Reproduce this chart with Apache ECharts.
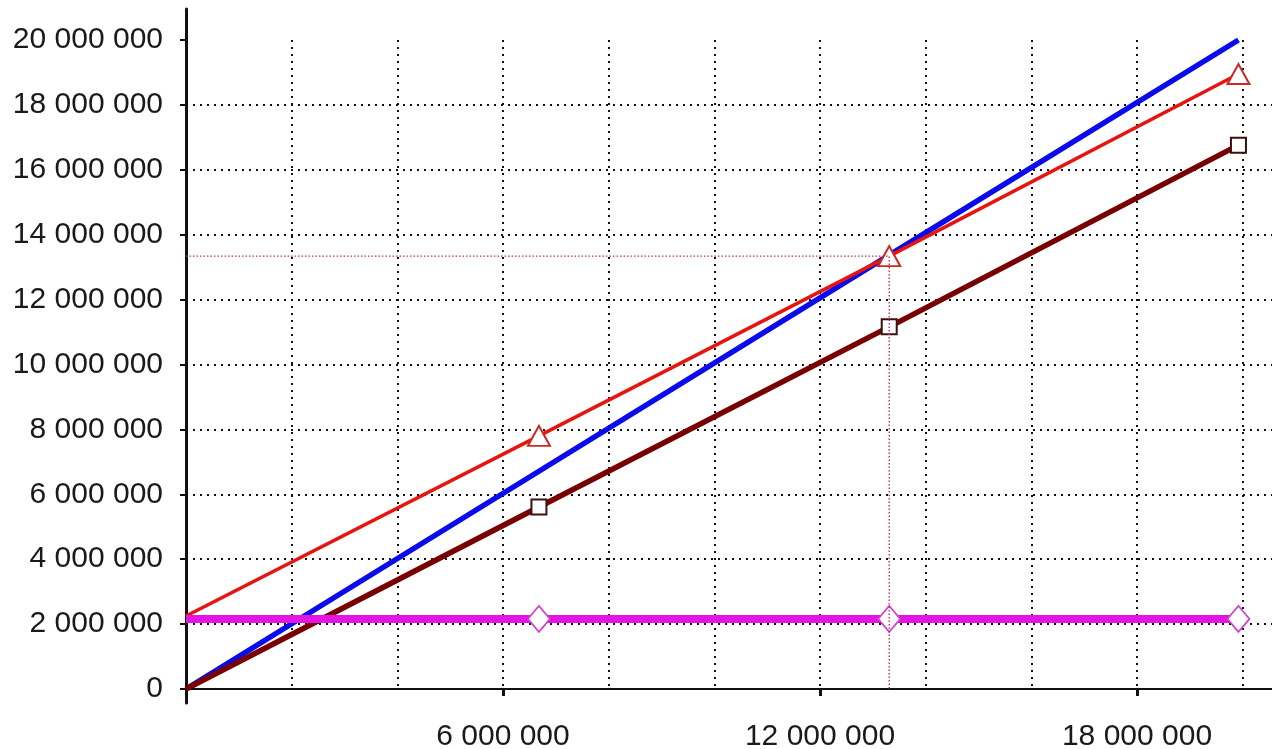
<!DOCTYPE html>
<html>
<head>
<meta charset="utf-8">
<script src="https://cdn.jsdelivr.net/npm/echarts@6/dist/echarts.min.js"></script>
<style>
html,body{margin:0;padding:0;background:#fff;}
#chart{width:1272px;height:749px;}
</style>
</head>
<body>
<div id="chart"></div>
<script>
// ---- data ----
const xValues = [0, 6680000, 13310000, 19920000];
const blueValues = [0, 6710000, 13370000, 20000000];
const redValues = [2250000, 7800000, 13340000, 18950000];
const maroonValues = [0, 5610000, 11160000, 16760000];
const magentaValues = [2160000, 2160000, 2160000, 2160000];
const refPoint = [13310000, 13340000];
const yTicks = [0, 2000000, 4000000, 6000000, 8000000, 10000000, 12000000, 14000000, 16000000, 18000000, 20000000];
const xTickLabels = [6000000, 12000000, 18000000];

const X_MAX = 20555000;
const Y_MAX = 20000000;

function fmt(v) {
  return String(Math.round(v)).replace(/\B(?=(\d{3})+(?!\d))/g, ' ');
}
function pts(ys, markFirst) {
  return xValues.map((x, i) => {
    const item = { value: [x, ys[i]] };
    if (i === 0 && !markFirst) item.symbol = 'none';
    return item;
  });
}

const font = { fontFamily: 'Liberation Sans, Arial, sans-serif', fontSize: 30, color: '#1a1a1a' };
const gridLine = { show: true, showMaxLine: false, showMinLine: false, lineStyle: { color: '#111', width: 2, type: [2, 5] } };

const chart = echarts.init(document.getElementById('chart'), null, { renderer: 'canvas' });
chart.setOption({
  animation: false,
  backgroundColor: '#fff',
  grid: [
    { left: 186, right: 0, top: 40, bottom: 60, containLabel: false, outerBoundsMode: 'none' },
    { left: 186, right: 0, top: 9, bottom: 46, containLabel: false, outerBoundsMode: 'none' }
  ],
  xAxis: [
    {
      type: 'value', gridIndex: 0, min: 0, max: X_MAX, interval: 2000000,
      axisLine: { show: true, onZero: false, lineStyle: { color: '#111', width: 2 } },
      axisTick: { show: false },
      axisLabel: { show: false },
      splitLine: gridLine
    },
    {
      type: 'value', gridIndex: 0, min: 0, max: X_MAX, interval: 6000000, position: 'bottom',
      axisLine: { show: false },
      axisTick: { show: true, length: 7, lineStyle: { color: '#111', width: 3 } },
      axisLabel: Object.assign({
        margin: 33, showMaxLabel: false,
        formatter: v => (xTickLabels.indexOf(v) >= 0 ? fmt(v) : '')
      }, font),
      splitLine: { show: false }
    },
    {
      type: 'value', gridIndex: 1, min: 0, max: X_MAX, show: false
    }
  ],
  yAxis: [
    {
      type: 'value', gridIndex: 0, min: 0, max: Y_MAX, interval: 2000000,
      axisLine: { show: false },
      axisTick: { show: true, length: 6, lineStyle: { color: '#111', width: 2 } },
      axisLabel: Object.assign({
        margin: 23,
        formatter: v => (yTicks.indexOf(v) >= 0 ? fmt(v) : '')
      }, font),
      splitLine: gridLine
    },
    {
      type: 'value', gridIndex: 1, min: 0, max: 1,
      axisLine: { show: true, onZero: false, lineStyle: { color: '#111', width: 3 } },
      axisTick: { show: false },
      axisLabel: { show: false },
      splitLine: { show: false }
    }
  ],
  series: [
    {
      type: 'line', name: 'blue', xAxisIndex: 0, yAxisIndex: 0,
      data: pts(blueValues, false), showSymbol: false, symbol: 'none',
      lineStyle: { color: '#0a0aee', width: 5.5 }, z: 3
    },
    {
      type: 'line', name: 'maroon', xAxisIndex: 0, yAxisIndex: 0,
      data: pts(maroonValues, false), symbol: 'rect', symbolSize: 15,
      itemStyle: { color: '#fff', borderColor: '#3a1010', borderWidth: 2 },
      lineStyle: { color: '#780000', width: 5.5 }, z: 4
    },
    {
      type: 'line', name: 'red', xAxisIndex: 0, yAxisIndex: 0,
      data: pts(redValues, false), symbol: 'triangle', symbolSize: [22, 20],
      itemStyle: { color: '#fff', borderColor: '#c82a26', borderWidth: 2 },
      lineStyle: { color: '#e8140f', width: 3.5 }, z: 5
    },
    {
      type: 'line', name: 'magenta', xAxisIndex: 0, yAxisIndex: 0,
      data: pts(magentaValues, false), symbol: 'diamond', symbolSize: [22, 26],
      itemStyle: { color: '#fff', borderColor: '#d040d0', borderWidth: 1.8 },
      lineStyle: { color: '#e414e4', width: 8 }, z: 6
    },
    {
      type: 'line', name: 'ref', xAxisIndex: 0, yAxisIndex: 0,
      data: [[0, refPoint[1]], [refPoint[0], refPoint[1]], [refPoint[0], 0]],
      symbol: 'none',
      lineStyle: { color: '#c8305a', width: 1.4, type: [1.5, 2] }, z: 7
    }
  ]
});
</script>
</body>
</html>
